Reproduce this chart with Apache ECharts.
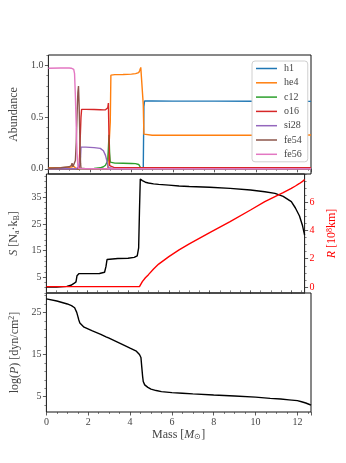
<!DOCTYPE html>
<html>
<head>
<meta charset="utf-8">
<script src="https://cdn.jsdelivr.net/npm/echarts@6/dist/echarts.min.js"></script>
<style>
html, body { margin: 0; padding: 0; background: #fff; }
#chart { width: 346px; height: 463px; }
</style>
</head>
<body>
<div id="chart"></div>
<script>
// --- abundance panel (mass coordinate in Msun) ---
const massA = [
  0, 0.6, 1.0, 1.1, 1.14, 1.18, 1.22, 1.26, 1.30, 1.34,
  1.38, 1.42, 1.45, 1.48, 1.52, 1.55, 1.57, 1.60, 1.8, 2.2,
  2.5, 2.65, 2.75, 2.82, 2.86, 2.89, 2.92, 2.95, 2.98, 3.01,
  3.2, 3.6, 4.0, 4.2, 4.35, 4.4, 4.45, 4.5, 4.54, 4.57,
  4.60, 4.63, 5.0, 6.0, 8.0, 10.0, 12.0, 12.65
];
const h1 = [
  0, 0, 0, 0, 0, 0, 0, 0, 0, 0,
  0, 0, 0, 0, 0, 0, 0, 0, 0, 0,
  0, 0, 0, 0, 0, 0, 0, 0, 0, 0,
  0, 0, 0, 0, 0, 0, 0, 0, 0, 0.01,
  0.6, 0.655, 0.655, 0.654, 0.654, 0.653, 0.653, 0.652
];
const he4 = [
  0.01, 0.012, 0.015, 0.018, 0.02, 0.022, 0.025, 0.02, 0.006, 0.002,
  0.001, 0.001, 0.001, 0.001, 0.001, 0.001, 0.001, 0.001, 0.001, 0.001,
  0.001, 0.001, 0.001, 0.001, 0.001, 0.001, 0.001, 0.004, 0.45, 0.905,
  0.91, 0.912, 0.915, 0.92, 0.93, 0.95, 0.98, 0.99, 0.97, 0.62,
  0.335, 0.325, 0.325, 0.325, 0.325, 0.325, 0.326, 0.327
];
const c12 = [
  0, 0, 0, 0, 0, 0, 0, 0, 0, 0,
  0, 0, 0, 0, 0, 0, 0, 0, 0.002, 0.004,
  0.01, 0.02, 0.035, 0.05, 0.08, 0.2, 0.33, 0.15, 0.065, 0.056,
  0.055, 0.054, 0.052, 0.05, 0.042, 0.025, 0.008, 0.002, 0.001, 0.001,
  0.001, 0.001, 0.001, 0.001, 0.001, 0.001, 0.001, 0.001
];
const o16 = [
  0.001, 0.001, 0.001, 0.001, 0.001, 0.001, 0.001, 0.001, 0.001, 0.001,
  0.001, 0.001, 0.001, 0.001, 0.001, 0.02, 0.5, 0.575, 0.575, 0.573,
  0.571, 0.57, 0.571, 0.575, 0.59, 0.635, 0.3, 0.03, 0.012, 0.01,
  0.01, 0.01, 0.01, 0.01, 0.01, 0.01, 0.01, 0.01, 0.01, 0.01,
  0.01, 0.01, 0.01, 0.01, 0.01, 0.01, 0.01, 0.01
];
const si28 = [
  0.001, 0.001, 0.001, 0.001, 0.001, 0.001, 0.001, 0.001, 0.001, 0.001,
  0.001, 0.01, 0.02, 0.03, 0.06, 0.12, 0.21, 0.215, 0.21, 0.205,
  0.198, 0.175, 0.13, 0.075, 0.035, 0.012, 0.003, 0.001, 0.001, 0.001,
  0.001, 0.001, 0.001, 0.001, 0.001, 0.001, 0.001, 0.001, 0.001, 0.001,
  0.001, 0.001, 0.001, 0.001, 0.001, 0.001, 0.001, 0.001
];
const fe54 = [
  0.005, 0.01, 0.02, 0.03, 0.055, 0.02, 0.01, 0.02, 0.08, 0.25,
  0.52, 0.74, 0.8, 0.62, 0.25, 0.05, 0.005, 0.001, 0.001, 0.001,
  0.001, 0.001, 0.001, 0.001, 0.001, 0.001, 0.001, 0.001, 0.001, 0.001,
  0.001, 0.001, 0.001, 0.001, 0.001, 0.001, 0.001, 0.001, 0.001, 0.001,
  0.001, 0.001, 0.001, 0.001, 0.001, 0.001, 0.001, 0.001
];
const fe56 = [
  0.972, 0.975, 0.975, 0.972, 0.97, 0.955, 0.96, 0.92, 0.7, 0.42,
  0.15, 0.03, 0.005, 0.001, 0.001, 0.001, 0.001, 0.001, 0.001, 0.001,
  0.001, 0.001, 0.001, 0.001, 0.001, 0.001, 0.001, 0.001, 0.001, 0.001,
  0.001, 0.001, 0.001, 0.001, 0.001, 0.001, 0.001, 0.001, 0.001, 0.001,
  0.001, 0.001, 0.001, 0.001, 0.001, 0.001, 0.001, 0.001
];

// --- entropy / radius / pressure profiles ---
const massP = [
  0, 0.5, 1.0, 1.2, 1.35, 1.45, 1.5, 1.55, 1.6, 1.8,
  2.2, 2.6, 2.85, 2.92, 2.97, 3.02, 3.5, 4.0, 4.3, 4.45,
  4.52, 4.56, 4.6, 4.63, 4.7, 4.85, 5.0, 5.25, 5.5, 6.0,
  6.5, 7.0, 8.0, 9.0, 10.0, 10.7, 11.2, 11.6, 12.0, 12.2,
  12.4, 12.55, 12.65
];
const entropy = [
  1.2, 1.25, 1.5, 1.9, 2.6, 3.2, 5.5, 6.2, 6.3, 6.3,
  6.3, 6.35, 6.8, 9.0, 11.6, 12.0, 12.0, 12.1, 12.4, 13.0,
  16.0, 30.0, 41.9, 41.8, 41.3, 40.7, 40.4, 40.1, 39.9, 39.6,
  39.3, 39.1, 38.8, 38.4, 37.8, 37.1, 36.5, 35.4, 33.4, 31.0,
  28.0, 24.3, 20.8
];
const radius = [
  0.02, 0.02, 0.02, 0.02, 0.02, 0.02, 0.02, 0.02, 0.02, 0.02,
  0.02, 0.02, 0.02, 0.02, 0.02, 0.02, 0.02, 0.02, 0.02, 0.02,
  0.02, 0.02, 0.05, 0.2, 0.38, 0.65, 0.87, 1.27, 1.62, 2.15,
  2.62, 3.05, 3.85, 4.62, 5.45, 6.05, 6.4, 6.68, 6.98, 7.15,
  7.33, 7.48, 7.6
];
const logP = [
  28.2, 27.7, 27.0, 26.6, 26.1, 25.0, 24.1, 23.2, 22.5, 21.5,
  20.6, 19.8, 19.2, 19.05, 18.95, 18.85, 17.7, 16.5, 15.8, 15.0,
  14.3, 12.0, 9.8, 8.6, 7.8, 7.2, 6.8, 6.45, 6.2, 5.95,
  5.8, 5.65, 5.4, 5.17, 4.9, 4.6, 4.45, 4.25, 4.05, 3.8,
  3.5, 3.2, 3.0
];

// --- ticks ---
const abundTicks = [0, 0.5, 1.0];
const entropyTicks = [5, 15, 25, 35];
const radiusTicks = [0, 2, 4, 6];
const pressureTicks = [5, 15, 25];

const FONT = 'Liberation Serif';
const LABEL_COLOR = '#444';
const TICK_COLOR = '#333';

function minors(start, end, step, majors) {
  const out = [];
  for (let v = start; v <= end + 1e-9; v += step) {
    const r = Math.round(v * 1000) / 1000;
    if (!majors.some(m => Math.abs(m - r) < 1e-6)) out.push(r);
  }
  return out;
}

const rich = {
  i: { fontStyle: 'italic', fontFamily: FONT, fontSize: 12 },
  sub: { fontSize: 8, fontFamily: FONT, padding: [5, 0, 0, 0] },
  sup: { fontSize: 8, fontFamily: FONT, padding: [0, 0, 5, 0] }
};

const grids = [
  { left: 43, right: 35, top: 55, height: 119 },
  { left: 43, right: 35, top: 174, height: 119 },
  { left: 43, right: 35, top: 293, height: 119 }
].map(g => Object.assign(g, { show: true, borderColor: '#111', borderWidth: 1, containLabel: false }));

function xAxisFor(idx, showLabels) {
  return {
    type: 'value', gridIndex: idx, min: 0, max: 12.65, interval: 2,
    axisLine: { show: false },
    axisTick: { show: true, length: 3.5, lineStyle: { color: TICK_COLOR, width: 0.8 } },
    minorTick: { show: true, splitNumber: 4, length: 2, lineStyle: { color: TICK_COLOR, width: 0.6 } },
    splitLine: { show: false },
    axisLabel: {
      show: showLabels, color: LABEL_COLOR, fontFamily: FONT, fontSize: 10, margin: 5,
      showMaxLabel: false
    },
    name: showLabels ? 'Mass [{i|M}{sub|⊙}]' : '',
    nameLocation: 'middle', nameGap: 16,
    nameTextStyle: { color: LABEL_COLOR, fontFamily: FONT, fontSize: 12, rich: rich }
  };
}

function yMain(grid, min, max, ticks, fmt, position, color, name, gap) {
  return {
    type: 'value', gridIndex: grid, min: min, max: max, position: position,
    axisLine: { show: false },
    splitLine: { show: false },
    axisTick: { show: true, length: 3.5, customValues: ticks, lineStyle: { color: TICK_COLOR, width: 0.8 } },
    axisLabel: {
      color: color, fontFamily: FONT, fontSize: 10, margin: 5,
      customValues: ticks, formatter: fmt
    },
    name: name, nameLocation: 'middle', nameRotate: 90, nameGap: gap,
    nameTextStyle: { color: color, fontFamily: FONT, fontSize: 12, rich: rich }
  };
}

function yMinor(grid, min, max, vals, position) {
  return {
    type: 'value', gridIndex: grid, min: min, max: max, position: position,
    axisLine: { show: false },
    splitLine: { show: false },
    axisLabel: { show: false },
    axisTick: { show: true, length: 2, customValues: vals, lineStyle: { color: TICK_COLOR, width: 0.6 } }
  };
}

const yAxes = [
  yMain(0, -0.05, 1.10, abundTicks, v => v.toFixed(1), 'left', LABEL_COLOR, 'Abundance', 22),
  yMinor(0, -0.05, 1.10, minors(0, 1.1, 0.1, abundTicks), 'left'),
  yMain(1, -1, 43.8, entropyTicks, v => String(v), 'left', LABEL_COLOR, '{i|S} [N{sub|a}·k{sub|B}]', 20),
  yMinor(1, -1, 43.8, minors(-1, 43, 2, entropyTicks), 'left'),
  yMain(1, -0.43, 8.0, radiusTicks, v => String(v), 'right', '#ff0000', '{i|R} [10{sup|8}km]', 17),
  yMinor(1, -0.43, 8.0, minors(0, 8, 0.5, radiusTicks), 'right'),
  yMain(2, 1.36, 29.6, pressureTicks, v => String(v), 'left', LABEL_COLOR, 'log({i|P}) [dyn/cm{sup|2}]', 20),
  yMinor(2, 1.36, 29.6, minors(3, 29, 2, pressureTicks), 'left')
];

const species = [
  { name: 'h1', data: h1, color: '#1f77b4' },
  { name: 'he4', data: he4, color: '#ff7f0e' },
  { name: 'c12', data: c12, color: '#2ca02c' },
  { name: 'o16', data: o16, color: '#d62728' },
  { name: 'si28', data: si28, color: '#9467bd' },
  { name: 'fe54', data: fe54, color: '#8c564b' },
  { name: 'fe56', data: fe56, color: '#e377c2' }
];

const series = species.map(s => ({
  name: s.name, type: 'line', xAxisIndex: 0, yAxisIndex: 0,
  showSymbol: false, symbol: 'none', color: s.color,
  lineStyle: { width: 1.4, color: s.color },
  data: massA.map((m, i) => [m, s.data[i]])
}));

series.push({
  name: 'S', type: 'line', xAxisIndex: 1, yAxisIndex: 2, symbol: 'none',
  lineStyle: { width: 1.4, color: '#000' },
  data: massP.map((m, i) => [m, entropy[i]])
});
series.push({
  name: 'R', type: 'line', xAxisIndex: 1, yAxisIndex: 4, symbol: 'none',
  lineStyle: { width: 1.4, color: '#ff0000' },
  data: massP.map((m, i) => [m, radius[i]])
});
series.push({
  name: 'logP', type: 'line', xAxisIndex: 2, yAxisIndex: 6, symbol: 'none',
  lineStyle: { width: 1.4, color: '#000' },
  data: massP.map((m, i) => [m, logP[i]])
});

const chart = echarts.init(document.getElementById('chart'), null, { renderer: 'canvas' });
chart.setOption({
  animation: false,
  backgroundColor: '#fff',
  grid: grids,
  xAxis: [xAxisFor(0, false), xAxisFor(1, false), xAxisFor(2, true)],
  yAxis: yAxes,
  legend: {
    data: species.map(s => s.name),
    orient: 'vertical',
    left: 252, top: 61,
    padding: [2, 6, 2, 4],
    itemWidth: 21, itemHeight: 1.5, itemGap: 3.3,
    icon: 'rect',
    backgroundColor: '#fff',
    borderColor: '#d0d0d0', borderWidth: 1, borderRadius: 3,
    textStyle: { fontFamily: FONT, fontSize: 10, color: LABEL_COLOR, lineHeight: 11, padding: [0, 0, 0, 2] }
  },
  series: series
});
</script>
</body>
</html>
